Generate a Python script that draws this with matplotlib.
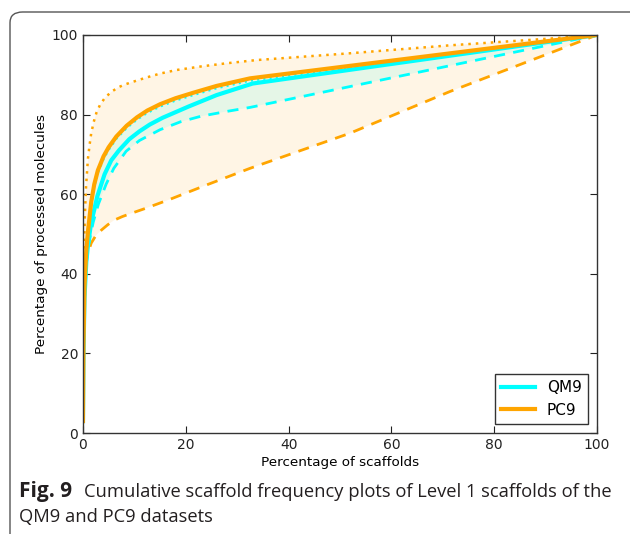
import matplotlib.pyplot as plt
from matplotlib.patches import FancyBboxPatch

# PC9 curves (percentage of scaffolds -> percentage of processed molecules)
pc9_x = [0, 0.1, 0.3, 0.65, 1.0, 1.6, 2.2, 2.9, 4.0, 5.0, 6.5, 8.5, 10.5, 12.5, 15, 18, 21.5, 26, 32.5, 100]
pc9_y = [3, 22, 37, 46, 51, 58, 62.5, 66, 69.5, 71.8, 74.5, 77.2, 79.3, 81, 82.6, 84.1, 85.5, 87.2, 89.1, 100]
pc9_low_x = [0, 0.1, 0.33, 0.8, 1.6, 2.5, 3.6, 4.8, 6.1, 7.7, 9.4, 12.3, 16.9, 24, 32.5, 51.9, 71.4, 100]
pc9_low_y = [3, 22, 40, 44.5, 47.7, 49.6, 51, 52.3, 53.5, 54.4, 55.2, 56.5, 58.7, 62.3, 66.5, 75.3, 85.8, 100]
pc9_high_x = [0, 0.05, 0.15, 0.35, 0.6, 0.97, 1.3, 1.6, 2.1, 2.6, 3.3, 4.2, 5.4, 6.8, 8, 9.4,
              12.3, 15, 18.2, 23, 28, 33.8, 51.9, 71.4, 90.9, 100]
pc9_high_y = [3, 25, 42, 54, 62, 69, 72.5, 75.3, 78.2, 80.4, 82.4, 84.1, 85.6, 86.8, 87.5, 88.1,
              89.3, 90.3, 91.2, 92.1, 92.9, 93.7, 95.4, 97.4, 99.1, 100]

# QM9 curves
qm9_x = [0, 0.1, 0.3, 0.65, 1.0, 1.5, 1.95, 2.8, 4.2, 5.5, 7, 9, 11, 13, 15.5, 18, 20.5, 26, 33, 100]
qm9_y = [3, 20, 34, 43, 47.5, 52, 54.8, 59.5, 65, 68.5, 71, 73.8, 75.8, 77.5, 79.2, 80.6, 82, 84.9, 87.8, 100]
qm9_low_x = [0, 0.1, 0.3, 0.65, 1.0, 1.5, 2.0, 3.0, 4.5, 6, 8.4, 11, 15, 19, 23, 28, 32.5, 100]
qm9_low_y = [3, 20, 34, 42.5, 46.5, 50, 53, 57.5, 62.5, 66.5, 70.8, 73.5, 76.2, 78.2, 79.6, 80.8, 81.8, 100]
qm9_high_x = [0, 0.1, 0.3, 0.65, 1.0, 1.6, 2.2, 2.9, 4.0, 5.0, 6.5, 8.5, 10.5, 12.5, 15, 18, 21.5, 26, 32.5, 100]
qm9_high_y = [3, 21, 36, 45, 50.3, 57.3, 61.8, 65.3, 68.8, 71.1, 73.9, 76.6, 78.7, 80.4, 82, 83.5, 84.9, 86.6, 88.5, 100]

cyan = "#00ffff"
orange = "#ffa500"

plt.rcParams["font.family"] = "DejaVu Sans"

fig = plt.figure(figsize=(6.3, 5.34), dpi=100)
ax = fig.add_axes([0.1317, 0.1891, 0.8159, 0.7454])

# shaded ranges between lower and upper bounds
ax.fill(pc9_low_x + pc9_high_x[::-1], pc9_low_y + pc9_high_y[::-1],
        color=orange, alpha=0.1, lw=0)
ax.fill(qm9_low_x + qm9_high_x[::-1], qm9_low_y + qm9_high_y[::-1],
        color=cyan, alpha=0.1, lw=0)

ax.plot(pc9_high_x, pc9_high_y, color=orange, lw=1.8, ls=(0, (1, 2)))
ax.plot(pc9_low_x, pc9_low_y, color=orange, lw=2, ls=(0, (4, 3)))
ax.plot(qm9_high_x, qm9_high_y, color=cyan, lw=1.5, ls=(0, (1, 2)))
ax.plot(qm9_low_x, qm9_low_y, color=cyan, lw=2, ls=(0, (4, 3)))
ax.plot(qm9_x, qm9_y, color=cyan, lw=3, label="QM9", solid_joinstyle="round")
ax.plot(pc9_x, pc9_y, color=orange, lw=3, label="PC9", solid_joinstyle="round")

ax.set_xlim(0, 100)
ax.set_ylim(0, 100)
ax.set_xticks(range(0, 101, 20))
ax.set_yticks(range(0, 101, 20))
ax.tick_params(direction="in", top=True, right=True, length=5, labelsize=10, colors="#222222")
for s in ax.spines.values():
    s.set_color("#333333")
    s.set_linewidth(1)

ax.set_xlabel("Percentage of scaffolds", fontsize=9.7, labelpad=3, color="black")
ax.set_ylabel("Percentage of processed molecules", fontsize=9.7, labelpad=3, color="black")

leg = ax.legend(loc="lower right", fontsize=11, fancybox=False, handlelength=2.2,
                borderaxespad=0.6, framealpha=1)
leg.get_frame().set_edgecolor("#333333")

# page frame around the figure
frame = FancyBboxPatch((10 / 630, -0.2), 1.2, 1.2 - 12 / 534,
                       boxstyle="round,pad=0,rounding_size=0.02",
                       transform=fig.transFigure, fill=False, ec="#555555", lw=1)
fig.patches.append(frame)

fig.text(19 / 630, 1 - 497 / 534, "Fig. 9", fontsize=15, weight="bold",
         family="Open Sans", color="#231f20")
fig.text(84 / 630, 1 - 497 / 534, "Cumulative scaffold frequency plots of Level 1 scaffolds of the",
         fontsize=13.2, family="Open Sans", color="#231f20")
fig.text(19 / 630, 1 - 522 / 534, "QM9 and PC9 datasets",
         fontsize=13.2, family="Open Sans", color="#231f20")

fig.savefig("out.png", dpi=100)
